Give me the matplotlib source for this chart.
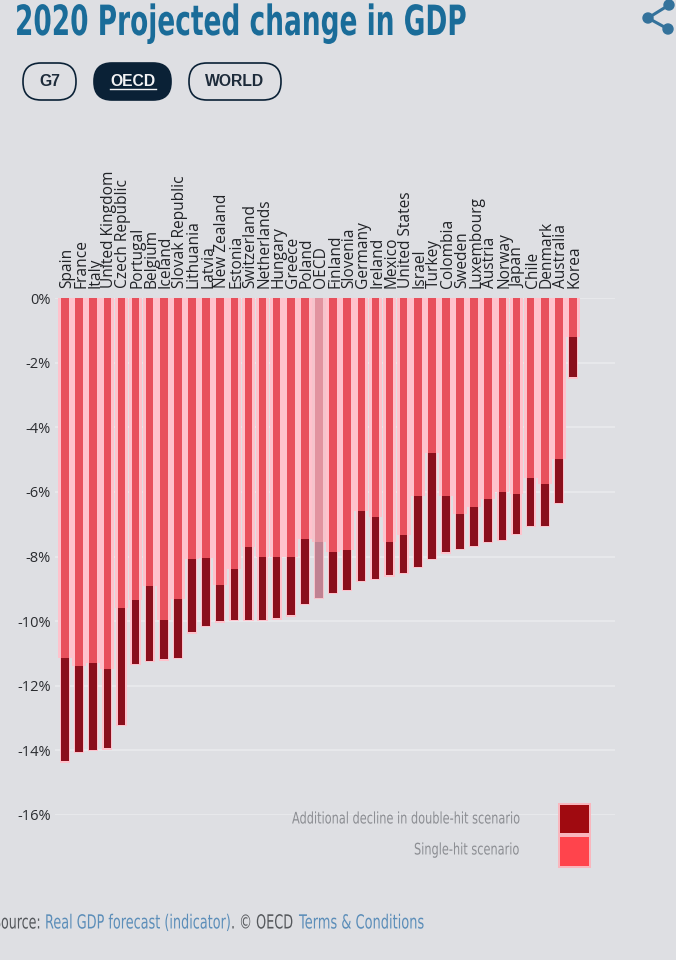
#!/usr/bin/python3
import matplotlib
matplotlib.use("Agg")
import numpy as np
import matplotlib.pyplot as plt
import matplotlib.patheffects as pe
from matplotlib.patches import FancyBboxPatch, Rectangle, Circle
from matplotlib.text import Text
from matplotlib.transforms import Affine2D, Bbox, ScaledTranslation

countries = ["Spain", "France", "Italy", "United Kingdom", "Czech Republic", "Portugal", "Belgium",
             "Iceland", "Slovak Republic", "Lithuania", "Latvia", "New Zealand", "Estonia", "Switzerland",
             "Netherlands", "Hungary", "Greece", "Poland", "OECD", "Finland", "Slovenia", "Germany",
             "Ireland", "Mexico", "United States", "Israel", "Turkey", "Colombia", "Sweden", "Luxembourg",
             "Austria", "Norway", "Japan", "Chile", "Denmark", "Australia", "Korea"]
single_hit = [11.13, 11.39, 11.29, 11.48, 9.59, 9.35, 8.91, 9.95, 9.31, 8.09, 8.06, 8.87, 8.39, 7.71,
              8.0, 8.0, 8.0, 7.46, 7.56, 7.86, 7.79, 6.59, 6.77, 7.56, 7.32, 6.14, 4.81, 6.12, 6.69,
              6.48, 6.21, 6.0, 6.06, 5.58, 5.77, 4.98, 1.22]
double_hit = [14.34, 14.04, 13.99, 13.94, 13.22, 11.32, 11.22, 11.18, 11.13, 10.35, 10.15, 10.01, 9.96,
              9.96, 9.96, 9.91, 9.82, 9.46, 9.28, 9.13, 9.04, 8.75, 8.70, 8.58, 8.50, 8.32, 8.08, 7.87,
              7.77, 7.68, 7.54, 7.49, 7.31, 7.05, 7.05, 6.33, 2.46]
yticks = [0, -2, -4, -6, -8, -10, -12, -14, -16]

W, H = 676, 960
BG = "#dedfe3"
CONDENSED = "DejaVu Sans"


class Squeeze(pe.AbstractPathEffect):
    # narrows a text horizontally around its left edge, the original font is more condensed
    def __init__(self, sx, x0):
        self.sx = sx
        self.x0 = x0

    def draw_path(self, renderer, gc, tpath, affine, rgbFace=None):
        squeeze = Affine2D().translate(-self.x0, 0).scale(self.sx, 1).translate(self.x0, 0)
        renderer.draw_path(gc, tpath, affine + squeeze, rgbFace)


class SqueezedText(Text):
    # reports the narrowed width, not the width of the font before Squeeze
    def __init__(self, x, y, s, sx, x0, **kw):
        super().__init__(x, y, s, path_effects=[Squeeze(sx, x0)], **kw)
        self.sx = sx
        self.x0 = x0

    def get_window_extent(self, renderer=None, dpi=None):
        bb = super().get_window_extent(renderer, dpi)
        return Bbox.from_extents(self.x0, bb.y0, self.x0 + (bb.x1 - self.x0) * self.sx, bb.y1)


def squeezed(ax, x, y, s, sx, **kw):
    # x, y are pixels of the picture, the axes runs 0..W and H..0
    x0 = ax.transData.transform((x, y))[0]
    t = SqueezedText(x, y, s, sx, x0, **kw)
    ax.add_artist(t)
    return t


fig = plt.figure(figsize=(W / 100, H / 100), dpi=100, facecolor=BG)

# chart
ax = fig.add_axes([55 / W, 1 - 815 / H, 560 / W, (815 - 298) / H], facecolor="none")
xs = np.arange(len(countries))
ax.set_xlim((55 - 65) / 14.11, (615 - 65) / 14.11)
ax.set_ylim(-16, 0)
for i, x in enumerate(xs):
    oecd = countries[i] == "OECD"
    light = "#e2939f" if oecd else "#e8505c"
    dark = "#c08292" if oecd else "#8a0f1c"
    halo = "#f6c3cb" if oecd else "#ffc2cc"
    ax.bar(x, -single_hit[i], width=0.98, color=halo, zorder=2, clip_on=False)
    ax.bar(x, -(double_hit[i] - single_hit[i]) - 0.04, bottom=-single_hit[i], width=0.72, color=halo, zorder=2)
    ax.bar(x, -single_hit[i], width=0.54, color=light, zorder=3)
    ax.bar(x, -(double_hit[i] - single_hit[i]), bottom=-single_hit[i], width=0.54, color=dark, zorder=3)

ax.set_yticks(yticks)
ax.set_yticklabels([f"{v}%" for v in yticks], family="Open Sans", fontsize=10.5, color="#2a2c30")
ax.tick_params(axis="y", length=0, pad=3)
ax.grid(True, axis="y", color="#e9eaed", linewidth=1.2, zorder=1)
ax.set_axisbelow(True)
ax.xaxis.tick_top()
ax.set_xticks(xs)
ax.set_xticklabels(countries, rotation=90, fontsize=11.2, color="#202226", family="Open Sans")
ax.tick_params(axis="x", length=0, pad=7)
nudge = ScaledTranslation(2 / 100, 0, fig.dpi_scale_trans)
for lab in ax.get_xticklabels():
    lab.set_transform(lab.get_transform() + nudge)
for side in ax.spines.values():
    side.set_visible(False)

# everything around the chart, in picture pixels
over = fig.add_axes([0, 0, 1, 1], facecolor="none")
over.set_xlim(0, W)
over.set_ylim(H, 0)
over.axis("off")

squeezed(over, 15, 35, "2020 Projected change in GDP", 0.634, family=CONDENSED, fontsize=30,
         fontweight="bold", color="#1a6c99", va="baseline")

# share icon
share_color = "#34729b"
over.plot([669, 648, 668], [5, 18, 29], color=share_color, lw=2.2, solid_capstyle="round")
for cx, cy in [(669, 5), (648, 18), (668, 29)]:
    over.add_patch(Circle((cx, cy), 5, color=share_color))

# buttons
buttons = [("G7", 22, 77, False), ("OECD", 93, 172, True), ("WORLD", 188, 282, False)]
for label, x0, x1, active in buttons:
    over.add_patch(FancyBboxPatch((x0 + 1, 63), x1 - x0 - 2, 37, boxstyle="round,pad=0,rounding_size=18",
                                  facecolor="#0a2136" if active else "none", edgecolor="#0a2136", linewidth=1.2))
    over.text((x0 + x1) / 2, 81.5, label, ha="center", va="center", family="Liberation Sans", fontsize=11.3,
              fontweight="bold", color="#f2f3f5" if active else "#1d2b3a")
over.plot([110, 156], [89, 89], color="#f2f3f5", lw=1)

# legend
over.add_patch(Rectangle((558, 803), 33, 65, color="#f9b6bd", lw=0))
over.add_patch(Rectangle((560, 805), 29, 28, color="#a00a10", lw=0))
over.add_patch(Rectangle((560, 837), 29, 29, color="#ff444c", lw=0))
legend_kw = dict(family=CONDENSED, fontsize=11.5, color="#8c8e93", va="center")
squeezed(over, 292, 819, "Additional decline in double-hit scenario", 0.71, **legend_kw)
squeezed(over, 414, 850, "Single-hit scenario", 0.71, **legend_kw)

# source line, cut at the left edge like the screenshot
src_kw = dict(family=CONDENSED, fontsize=14, va="center")
squeezed(over, -7, 923, "Source:", 0.65, color="#55585c", **src_kw)
squeezed(over, 45, 923, "Real GDP forecast (indicator)", 0.66, color="#5c8eb9", **src_kw)
squeezed(over, 231, 923, ". \u00a9 OECD", 0.66, color="#55585c", **src_kw)
squeezed(over, 299, 923, "Terms & Conditions", 0.667, color="#5c8eb9", **src_kw)

fig.savefig("out.png", dpi=100, facecolor=BG)
